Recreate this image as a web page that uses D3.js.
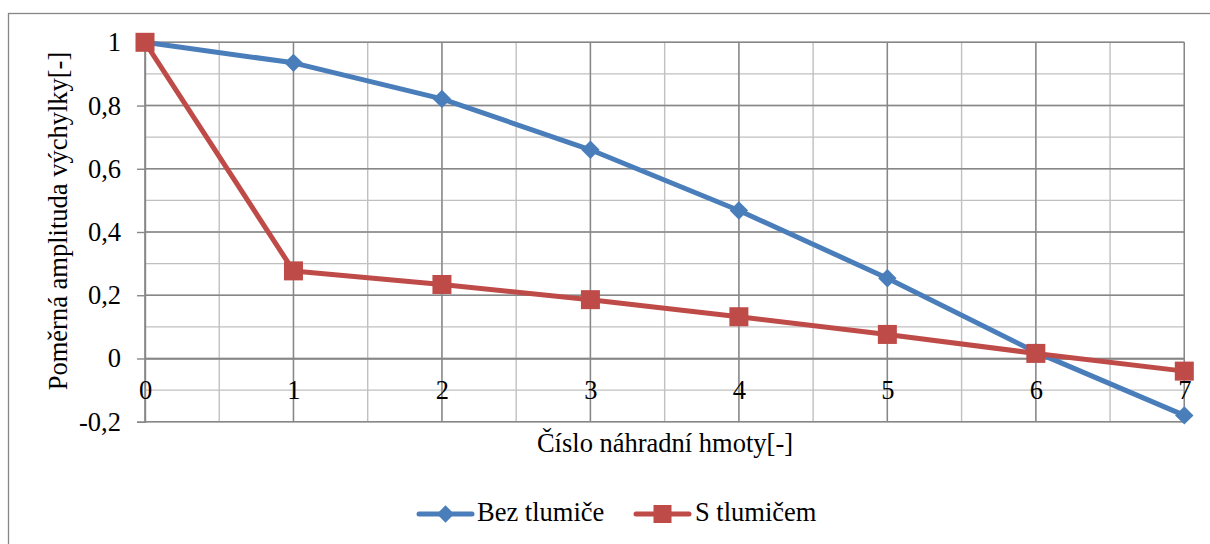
<!DOCTYPE html>
<html><head><meta charset="utf-8">
<script src="https://cdn.jsdelivr.net/npm/d3@7"></script>
<style>body{margin:0;background:#fff}svg{display:block}</style>
</head><body>
<svg id="c" width="1210" height="544"></svg>
<script>
const xValues = [0,1,2,3,4,5,6,7];
const bezTlumice = [1, 0.935, 0.821, 0.660, 0.468, 0.254, 0.020, -0.180];
const sTlumicem = [1, 0.277, 0.234, 0.186, 0.132, 0.076, 0.016, -0.040];
const seriesNames = ["Bez tlumiče", "S tlumičem"];
const yTicks = [-0.2, 0, 0.2, 0.4, 0.6, 0.8, 1];
const xTitle = "Číslo náhradní hmoty[-]";
const yTitle = "Poměrná amplituda výchylky[-]";

const FONT = "Liberation Serif";
const FS = 26.5;
const svg = d3.select("#c");
const L = 145, R = 1184.3, T = 42.3, B = 421.7;
const x = d3.scaleLinear().domain([0,7]).range([L,R]);
const y = d3.scaleLinear().domain([-0.2,1]).range([B,T]);

svg.append("rect").attr("x",8.5).attr("y",13.5).attr("width",1210).attr("height",560)
  .attr("fill","none").attr("stroke","#868686").attr("stroke-width",1.3);

const g = svg.append("g");
d3.range(-0.2,1.0001,0.1).forEach(v=>{
  g.append("line").attr("x1",L).attr("x2",R).attr("y1",y(v)).attr("y2",y(v))
   .attr("stroke","#c0c0c0").attr("stroke-width",1.4);
});
d3.range(0,7.0001,0.5).forEach(v=>{
  g.append("line").attr("x1",x(v)).attr("x2",x(v)).attr("y1",T).attr("y2",B)
   .attr("stroke","#c0c0c0").attr("stroke-width",1.4);
});
yTicks.forEach(v=>{
  g.append("line").attr("x1",L).attr("x2",R).attr("y1",y(v)).attr("y2",y(v))
   .attr("stroke","#878787").attr("stroke-width",1.4);
});
xValues.forEach(v=>{
  g.append("line").attr("x1",x(v)).attr("x2",x(v)).attr("y1",T).attr("y2",B)
   .attr("stroke","#878787").attr("stroke-width",1.4);
});

const yAxis = d3.axisLeft(y).tickValues(yTicks).tickSize(8).tickPadding(16)
  .tickFormat(d=>String(Math.round(d*10)/10).replace(".",","));
const ya = svg.append("g").attr("transform",`translate(${L},0)`).call(yAxis);
ya.selectAll("path,line").attr("stroke","#878787").attr("stroke-width",1.4);
ya.selectAll("text").attr("font-size",FS).style("font-family",FONT).attr("fill","#000");

const xa = svg.append("g").attr("transform",`translate(0,${y(0)})`)
  .call(d3.axisBottom(x).tickValues(xValues).tickSize(0).tickPadding(21.5).tickFormat(d3.format("d")));
xa.select("path").attr("stroke","#878787").attr("stroke-width",1.6);
xa.selectAll("text").attr("font-size",FS).style("font-family",FONT).attr("fill","#000");

svg.append("text").attr("x",665).attr("y",452).attr("text-anchor","middle").attr("font-size",FS).style("font-family",FONT).text(xTitle);
svg.append("text").attr("transform","translate(67,221) rotate(-90)").attr("text-anchor","middle").attr("font-size",FS).style("font-family",FONT).text(yTitle);

const colors = ["#4a7ebb","#be4b48"];
const data = [bezTlumice, sTlumicem];
const line = d3.line().x((d,i)=>x(xValues[i])).y(d=>y(d));

data.forEach((s,k)=>{
  svg.append("path").datum(s).attr("d",line).attr("fill","none")
    .attr("stroke",colors[k]).attr("stroke-width",5).attr("stroke-linejoin","round").attr("stroke-linecap","round");
});
svg.append("g").selectAll("path").data(bezTlumice).join("path")
  .attr("transform",(d,i)=>`translate(${x(xValues[i])},${y(d)}) rotate(45)`)
  .attr("d",d3.symbol().type(d3.symbolSquare).size(170)).attr("fill",colors[0]);
svg.append("g").selectAll("rect").data(sTlumicem).join("rect")
  .attr("x",(d,i)=>x(xValues[i])-9.5).attr("y",d=>y(d)-9.5).attr("width",19).attr("height",19)
  .attr("fill",colors[1]);

const leg = [{x:419,tx:477},{x:636,tx:695}];
seriesNames.forEach((n,k)=>{
  const lg = svg.append("g");
  lg.append("line").attr("x1",leg[k].x).attr("x2",leg[k].x+53).attr("y1",514).attr("y2",514)
    .attr("stroke",colors[k]).attr("stroke-width",5).attr("stroke-linecap","round");
  const cx = leg[k].x+26.5;
  if(k===0){
    lg.append("path").attr("transform",`translate(${cx},514) rotate(45)`)
      .attr("d",d3.symbol().type(d3.symbolSquare).size(150)).attr("fill",colors[0]);
  } else {
    lg.append("rect").attr("x",cx-9).attr("y",505).attr("width",18).attr("height",18).attr("fill",colors[1]);
  }
  lg.append("text").attr("x",leg[k].tx).attr("y",521).attr("font-size",FS).style("font-family",FONT).text(n);
});
</script>
</body></html>
